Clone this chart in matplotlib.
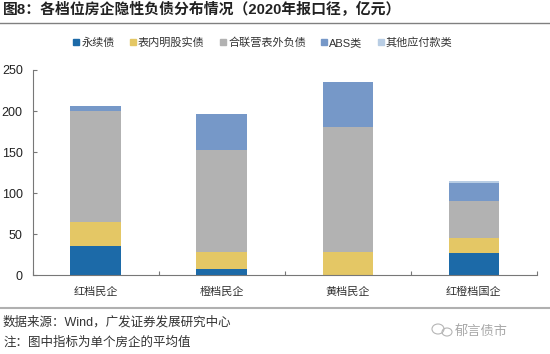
import matplotlib
matplotlib.use("Agg")
import matplotlib.pyplot as plt
from matplotlib.lines import Line2D
from matplotlib.patches import Ellipse
import numpy as np

plt.rcParams['font.family'] = ['Liberation Sans', 'Noto Sans CJK SC', 'DejaVu Sans']

categories = ['红档民企', '橙档民企', '黄档民企', '红橙档国企']
series_names = ['永续债', '表内明股实债', '合联营表外负债', 'ABS类', '其他应付款类']
series_colors = ['#1c6aa8', '#e4c765', '#b2b2b2', '#7698c8', '#b8cde4']

perpetual = [36, 8, 0, 27.5]
hidden_equity = [29, 20, 28, 18.5]
off_balance = [135, 124, 153, 44]
abs_loans = [6.5, 44.5, 54.5, 23]
other_payables = [0, 0, 0, 2]

W, H = 550, 354
fig = plt.figure(figsize=(W / 100, H / 100), dpi=100)
ax = fig.add_axes([32.5 / W, 1 - 275.3 / H, (537 - 32.5) / W, 205.3 / H])

# stacked bars
x = np.arange(len(categories))
bottom = np.zeros(len(categories))
for vals, name, color in zip([perpetual, hidden_equity, off_balance, abs_loans, other_payables],
                             series_names, series_colors):
    ax.bar(x, vals, 0.4, bottom=bottom, color=color, label=name)
    bottom += np.array(vals)

ax.set_xlim(-0.5, 3.5)
ax.set_ylim(0, 250)
ax.set_yticks([0, 50, 100, 150, 200, 250])
ax.set_xticks(x)
ax.set_xticklabels(categories, fontsize=8, color='#333333')
ax.set_xticks(np.arange(-0.5, 4, 1), minor=True)
ax.tick_params(axis='x', which='major', length=0, pad=8)
ax.tick_params(axis='x', which='minor', length=3, direction='in', color='#777777', width=0.8)
ax.tick_params(axis='y', length=3, direction='in', color='#777777', width=0.8,
               labelsize=9, labelcolor='#222222', pad=7)
ax.spines['top'].set_visible(False)
ax.spines['right'].set_visible(False)
ax.spines['left'].set_color('#777777')
ax.spines['bottom'].set_color('#777777')

# legend
handles = [Line2D([], [], marker='s', linestyle='none', markersize=4.5, color=c) for c in series_colors]
fig.legend(handles, series_names, loc='center', bbox_to_anchor=(262 / W, 1 - 43 / H), ncol=5, frameon=False,
           fontsize=8, labelcolor='#333333', handletextpad=0, columnspacing=1.2, handlelength=0.9)

# title and rules
fig.text(3 / W, 1 - 10 / H, '图8：各档位房企隐性负债分布情况（2020年报口径，亿元）', fontsize=10.7,
         fontweight='bold', color='#222222', va='center')
fig.add_artist(Line2D([0, 1], [1 - 22.5 / H] * 2, color='#808080', lw=1))
fig.add_artist(Line2D([0, 1], [1 - 307.5 / H] * 2, color='#b0b0b0', lw=1.5))

# footer
fig.text(3 / W, 1 - 322 / H, '数据来源：Wind，广发证券发展研究中心', fontsize=9, color='#333333', va='center')
fig.text(3 / W, 1 - 343 / H, '注：图中指标为单个房企的平均值', fontsize=9, color='#333333', va='center')

# watermark
fig.text(455 / W, 1 - 331 / H, '郁言债市', fontsize=9.5, color='#a8a8a8', va='center')
for ex, ey, ew in [(438, 329, 12), (447, 332, 10)]:
    fig.add_artist(Ellipse((ex / W, 1 - ey / H), ew / W, (ew - 2) / H, fill=False, ec='#b5b5b5', lw=0.8,
                           transform=fig.transFigure))

plt.savefig('out.png', dpi=100)
